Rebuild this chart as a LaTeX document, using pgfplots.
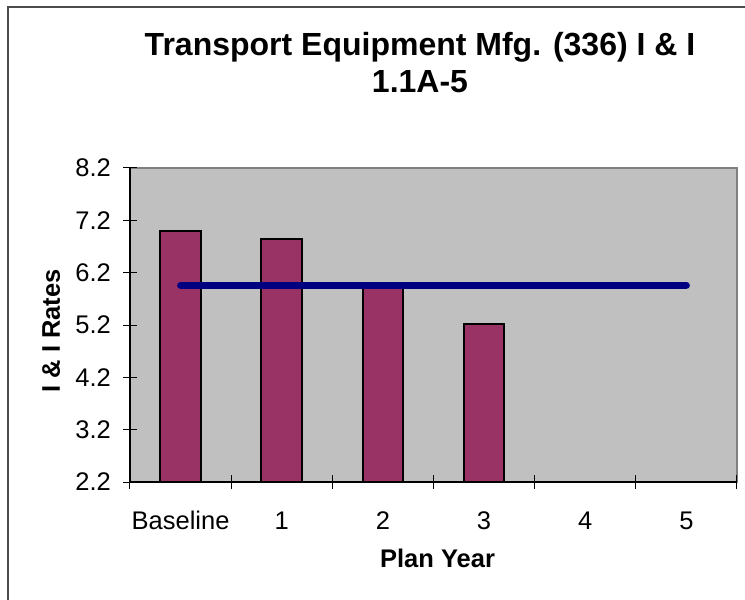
\documentclass[border=0pt]{standalone}
\usepackage{pgfplots}
\pgfplotsset{compat=1.18}
\usepackage{fontspec}
\setmainfont{Liberation Sans}
\definecolor{plotgray}{HTML}{C0C0C0}
\definecolor{barred}{HTML}{993366}
\definecolor{navyline}{HTML}{000080}
\begin{document}
\begin{tikzpicture}
\useasboundingbox (-130pt,-118pt) rectangle (615pt,482pt);
\draw[line width=1.5pt, black!70] (-122pt,-118pt) -- (-122pt,475pt) -- (615pt,475pt);
\begin{axis}[
    scale only axis,
    width=607pt, height=314pt,
    xmin=-0.5, xmax=5.5,
    ymin=2.2, ymax=8.2,
    xtick={-0.5,0.5,1.5,2.5,3.5,4.5,5.5},
    x tick label as interval,
    xticklabels={Baseline,1,2,3,4,5},
    ytick={2.2,3.2,4.2,5.2,6.2,7.2,8.2},
    yticklabels={2.2,3.2,4.2,5.2,6.2,7.2,8.2},
    tick align=center,
    major tick length=14pt,
    tick style={black, line width=1pt},
    axis x line*=bottom, axis y line*=left,
    axis line style={black, line width=1.2pt, -},
    axis background/.style={fill=plotgray, draw=gray, line width=1.5pt},
    ticklabel style={font=\fontsize{25.5}{30}\selectfont},
    /pgf/number format/assume math mode=true,
    xticklabel style={anchor=base, yshift=-40pt},
    yticklabel style={anchor=east, inner sep=0pt, xshift=-12pt},
    title={Transport Equipment Mfg. (336) I \& I\\1.1A-5},
    title style={font=\bfseries\fontsize{32}{37}\selectfont, align=center, anchor=north, at={(axis description cs:0.4778,1.423)}},
    xlabel={Plan Year},
    xlabel style={font=\bfseries\fontsize{25.5}{30}\selectfont, anchor=base, at={(axis description cs:0.5066,-0.2707)}},
    ylabel={I \& I Rates},
    ylabel style={font=\bfseries\fontsize{25.5}{30}\selectfont, anchor=center, at={(axis description cs:-0.130,0.481)}},
    clip=true,
]
\addplot[ybar, bar width=40.5pt, fill=barred, draw=black, line width=2pt] coordinates {
    (0,7.00) (1,6.84) (2,6.01) (3,5.21)
};
\addplot[sharp plot, navyline, line width=7pt, line cap=round] coordinates {
    (0,5.96) (5,5.96)
};
\end{axis}
\end{tikzpicture}
\end{document}
